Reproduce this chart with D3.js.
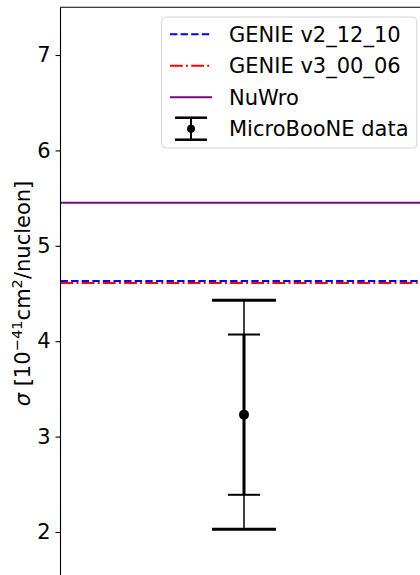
<!DOCTYPE html>
<html><head><meta charset="utf-8">
<script src="https://cdn.jsdelivr.net/npm/d3@7"></script>
<style>html,body{margin:0;padding:0;background:#fff;overflow:hidden}</style>
</head><body><svg id="c" width="420" height="575"></svg>
<script>
const modelNames = ["GENIE v2_12_10", "GENIE v3_00_06", "NuWro"];
const modelValues = [4.63, 4.61, 5.45];
const modelColors = ["blue", "red", "purple"];
const modelDashes = ["7.4,3.2", "12.8,3.2,2,3.2", null];
const dataLabel = "MicroBooNE data";
const dataValue = [3.23];
const statErr = [0.84];
const totalErr = [1.20];
const yTicks = [2, 3, 4, 5, 6, 7];

(function () {
const svg = d3.select("#c");
const font = "DejaVu Sans, sans-serif";
const fs = 21;
const pL = 60.5, pT = 7.3, pR = 427.5, pB = 579.7;
const y = d3.scaleLinear().domain([1.5, 7.5]).range([pB, pT]);
const x = d3.scaleLinear().domain([0, 2]).range([pL, pR]);

const order = [1, 0, 2];
order.forEach(i => {
  svg.append("line")
    .attr("x1", x(0)).attr("x2", x(2))
    .attr("y1", y(modelValues[i])).attr("y2", y(modelValues[i]))
    .attr("stroke", modelColors[i]).attr("stroke-width", 2)
    .attr("stroke-dasharray", modelDashes[i]);
});

const g = svg.append("g");
dataValue.forEach((v, i) => {
  const cx = x(1);
  g.append("line").attr("x1", cx).attr("x2", cx)
    .attr("y1", y(v - totalErr[i])).attr("y2", y(v + totalErr[i]))
    .attr("stroke", "black").attr("stroke-width", 1.5);
  g.append("line").attr("x1", cx).attr("x2", cx)
    .attr("y1", y(v - statErr[i])).attr("y2", y(v + statErr[i]))
    .attr("stroke", "black").attr("stroke-width", 3);
  [v - totalErr[i], v + totalErr[i]].forEach(t => {
    g.append("line").attr("x1", cx - 32).attr("x2", cx + 32)
      .attr("y1", y(t)).attr("y2", y(t))
      .attr("stroke", "black").attr("stroke-width", 3);
  });
  [v - statErr[i], v + statErr[i]].forEach(t => {
    g.append("line").attr("x1", cx - 16).attr("x2", cx + 16)
      .attr("y1", y(t)).attr("y2", y(t))
      .attr("stroke", "black").attr("stroke-width", 2);
  });
  g.append("circle").attr("cx", cx).attr("cy", y(v)).attr("r", 5).attr("fill", "black");
});

const ax = svg.append("g").attr("transform", `translate(${pL},0)`)
  .call(d3.axisLeft(y).tickValues(yTicks).tickSize(5).tickPadding(5).tickFormat(d3.format("d")));
ax.select(".domain").remove();
ax.selectAll("line").attr("stroke", "black").attr("stroke-width", 1.1);
ax.selectAll("text").attr("font-family", font).attr("font-size", fs).attr("fill", "black");

svg.append("line").attr("x1", pL).attr("x2", pL).attr("y1", pT).attr("y2", pB)
  .attr("stroke", "black").attr("stroke-width", 1.1);
svg.append("line").attr("x1", pL).attr("x2", pR).attr("y1", pT).attr("y2", pT)
  .attr("stroke", "black").attr("stroke-width", 1.1);

const yl = svg.append("text")
  .attr("transform", `translate(30,${(pT + pB) / 2}) rotate(-90)`)
  .attr("text-anchor", "middle").attr("font-family", font).attr("font-size", fs).attr("fill", "black");
yl.append("tspan").attr("font-style", "italic").text("σ");
yl.append("tspan").text(" [10");
yl.append("tspan").attr("font-size", fs * 0.7).attr("dy", -8).text("−41");
yl.append("tspan").attr("dy", 8).text("cm");
yl.append("tspan").attr("font-size", fs * 0.7).attr("dy", -8).text("2");
yl.append("tspan").attr("dy", 8).text("/nucleon]");

const lg = svg.append("g");
lg.append("rect").attr("x", 161.7).attr("y", 17).attr("width", 255).attr("height", 131)
  .attr("rx", 4).attr("fill", "white").attr("fill-opacity", 0.8)
  .attr("stroke", "#d4d4d4").attr("stroke-width", 1);
const rowY = [34.3, 65.7, 97.3, 128.7];
modelNames.forEach((n, i) => {
  lg.append("line").attr("x1", 170).attr("x2", 212).attr("y1", rowY[i]).attr("y2", rowY[i])
    .attr("stroke", modelColors[i]).attr("stroke-width", 2).attr("stroke-dasharray", modelDashes[i]);
  lg.append("text").attr("x", 229).attr("y", rowY[i] + 7.7)
    .attr("font-family", font).attr("font-size", fs).attr("fill", "black").text(n);
});
{
  const cy = rowY[3], cx = 191;
  lg.append("line").attr("x1", cx).attr("x2", cx).attr("y1", cy - 11).attr("y2", cy + 11)
    .attr("stroke", "black").attr("stroke-width", 2);
  [cy - 11, cy + 11].forEach(t => lg.append("line").attr("x1", cx - 16).attr("x2", cx + 16)
    .attr("y1", t).attr("y2", t).attr("stroke", "black").attr("stroke-width", 2.5));
  lg.append("circle").attr("cx", cx).attr("cy", cy).attr("r", 4).attr("fill", "black");
  lg.append("text").attr("x", 229).attr("y", cy + 7.7)
    .attr("font-family", font).attr("font-size", fs).attr("fill", "black").text(dataLabel);
}
})();
</script></body></html>
